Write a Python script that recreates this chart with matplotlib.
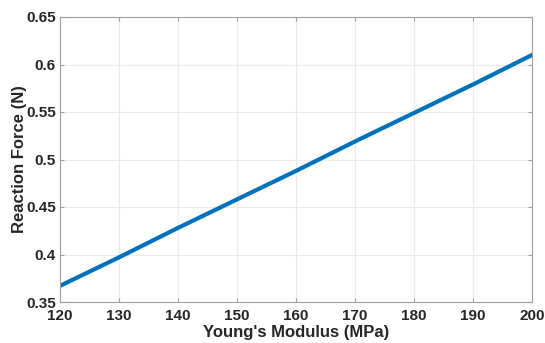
import matplotlib
matplotlib.use("Agg")
import matplotlib.pyplot as plt

modulus = [120, 130, 140, 150, 160, 170, 180, 190, 200]
force = [0.367, 0.397, 0.428, 0.458, 0.488, 0.519, 0.549, 0.579, 0.610]
xticks = [120, 130, 140, 150, 160, 170, 180, 190, 200]
yticks = [0.35, 0.4, 0.45, 0.5, 0.55, 0.6, 0.65]
ytick_labels = ["0.35", "0.4", "0.45", "0.5", "0.55", "0.6", "0.65"]

plt.rcParams['font.family'] = ['Liberation Sans', 'DejaVu Sans']
fig = plt.figure(figsize=(5.45, 3.43), dpi=100)
ax = fig.add_axes([60/545, 1 - 302/343, (532-60)/545, (302-17)/343])
ax.plot(modulus, force, color='#0072BD', linewidth=3)
ax.set_xlim(120, 200)
ax.set_ylim(0.35, 0.65)
ax.set_xticks(xticks)
ax.set_yticks(yticks)
ax.set_yticklabels(ytick_labels)
ax.grid(True, color='#ebebeb', linewidth=0.8)
ax.set_axisbelow(True)
for s in ax.spines.values():
    s.set_color('#a0a0a0')
    s.set_linewidth(0.8)
ax.tick_params(direction='in', length=3, color='#a0a0a0', labelsize=11, labelcolor='#262626',
               top=True, right=True)
ax.tick_params(axis='x', pad=5)
ax.tick_params(axis='y', pad=3)
for lab in ax.get_xticklabels() + ax.get_yticklabels():
    lab.set_fontweight('bold')
ax.set_xlabel("Young's Modulus (MPa)", fontsize=12, fontweight='bold', color='#262626', va='center')
ax.set_ylabel("Reaction Force (N)", fontsize=12, fontweight='bold', color='#262626', va='center')
ax.xaxis.set_label_coords(0.5, (302 - 332) / 285)
ax.yaxis.set_label_coords((20 - 60) / 472, 0.5)
fig.savefig("out.png", dpi=100, facecolor='white')
